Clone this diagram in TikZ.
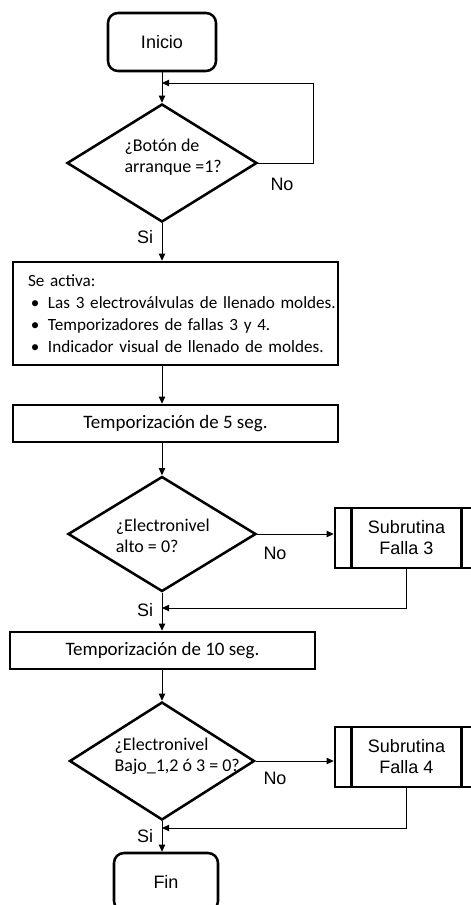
\documentclass[tikz,border=0pt]{standalone}
\usepackage{fontspec}
\setmainfont{Carlito}
\newfontfamily\arialfont{Liberation Sans}
\usepackage{tikz}
\usetikzlibrary{positioning, shapes.geometric, arrows.meta}
\newcommand{\letra}{\fontsize{12.8}{15}\selectfont}
\newcommand{\vineta}[1]{\mbox{\makebox[0.5cm][l]{\,\textbullet}#1}}

\begin{document}
\begin{tikzpicture}[->, >={Triangle[length=5pt,width=4.5pt]}, line width=0.7pt]
		\tikzset{
		    terminal/.style= {rectangle, rounded corners=0.25cm, draw, line width=1.8pt, minimum width=2.7cm, minimum height=1.45cm, font=\arialfont\letra},
		    proceso/.style= {rectangle, draw, line width=1.8pt, minimum height=0.925cm, font=\fontsize{13.5}{15}\selectfont},
		    decision/.style= {diamond, draw, line width=1.8pt, inner sep=0pt},
		    pregunta/.style= {align=left, font=\letra},
		    subrutina/.style= {rectangle, draw, line width=1.8pt, minimum width=3.575cm, minimum height=1.5cm, align=center, font=\arialfont\letra},
		    etiqueta/.style= {font=\arialfont\letra},
		}
		\useasboundingbox (0,0) rectangle (11.775,-22.625);
		
		\node[terminal] (ini) at (4.05,-1.05) {Inicio};
		\node[decision, minimum width=4.75cm, minimum height=2.95cm,
		    label={[pregunta, xshift=0.28cm, yshift=0.15cm]center:¿Botón de\\arranque =1?}] (d1) at (4.05,-4.075) {};
		\node[proceso, minimum width=8.125cm, minimum height=2.575cm, text width=7.375cm, inner xsep=0.375cm, align=left, font=\fontsize{12.2}{15.5}\selectfont] (b1) at (4.3875,-7.8375)
		    {Se activa:\\ \vineta{Las 3 electroválvulas de llenado moldes.}\\ \vineta{Temporizadores de fallas 3 y 4.}\\ \vineta{Indicador visual de llenado de moldes.}};
		\node[proceso, minimum width=8.125cm] (b2) at (4.3875,-10.5875) {Temporización de 5 seg.};
		\node[decision, minimum width=4.7cm, minimum height=2.875cm,
		    label={[pregunta, xshift=0.02cm, yshift=-0.05cm]center:¿Electronivel\\alto = 0?}] (d2) at (4.05,-13.35) {};
		\node[subrutina] (s3) at (10.1625,-13.45) {Subrutina\\Falla 3};
		\node[proceso, minimum width=7.625cm] (b3) at (4.0625,-16.2625) {Temporización de 10 seg.};
		\node[decision, minimum width=4.625cm, minimum height=2.95cm,
		    label={[pregunta, xshift=0.38cm, yshift=0.12cm]center:¿Electronivel\\Bajo\_1,2 ó 3 = 0?}] (d3) at (4.05,-19.025) {};
		\node[subrutina] (s4) at (10.1625,-18.925) {Subrutina\\Falla 4};
		\node[terminal, minimum width=2.6cm] (fin) at (4.15,-22.05) {Fin};
		
		\node[etiqueta] (no1) at (7.05,-4.6) {No};
		\node[etiqueta] (si1) at (3.625,-5.925) {Si};
		\node[etiqueta] (no2) at (6.875,-13.825) {No};
		\node[etiqueta] (si2) at (3.625,-15.25) {Si};
		\node[etiqueta] (no3) at (6.875,-19.45) {No};
		\node[etiqueta] (si3) at (3.625,-20.9) {Si};
		
		\coordinate (lazo) at (4.05,-2.075);
		\coordinate (lazoder) at (7.825,-2.075);
		\coordinate (r3) at (4.05,-15.2);
		\coordinate (r4) at (4.05,-20.7);
		
		% barras laterales de las subrutinas
		\foreach \s in {s3, s4} {
		    \draw[-, line width=1.8pt] ([xshift=0.45cm]\s.north west) -- ([xshift=0.45cm]\s.south west);
		    \draw[-, line width=1.8pt] ([xshift=-0.45cm]\s.north east) -- ([xshift=-0.45cm]\s.south east);
		}
		
		\draw (ini) -- (d1);
		\draw (d1.east) -| (lazoder) -- (lazo);
		\draw (d1.south) -- (d1.south |- b1.north);
		\draw (d1.south |- b1.south) -- (d1.south |- b2.north);
		\draw (d2.north |- b2.south) -- (d2.north);
		\draw (d2.east) -- (d2.east -| s3.west);
		\draw (s3.south) |- (r3);
		\draw (d2.south) -- (d2.south |- b3.north);
		\draw (d3.north |- b3.south) -- (d3.north);
		\draw (d3.east) -- (d3.east -| s4.west);
		\draw (s4.south) |- (r4);
		\draw (d3.south) -- (d3.south |- fin.north);
	\end{tikzpicture}
\end{document}
